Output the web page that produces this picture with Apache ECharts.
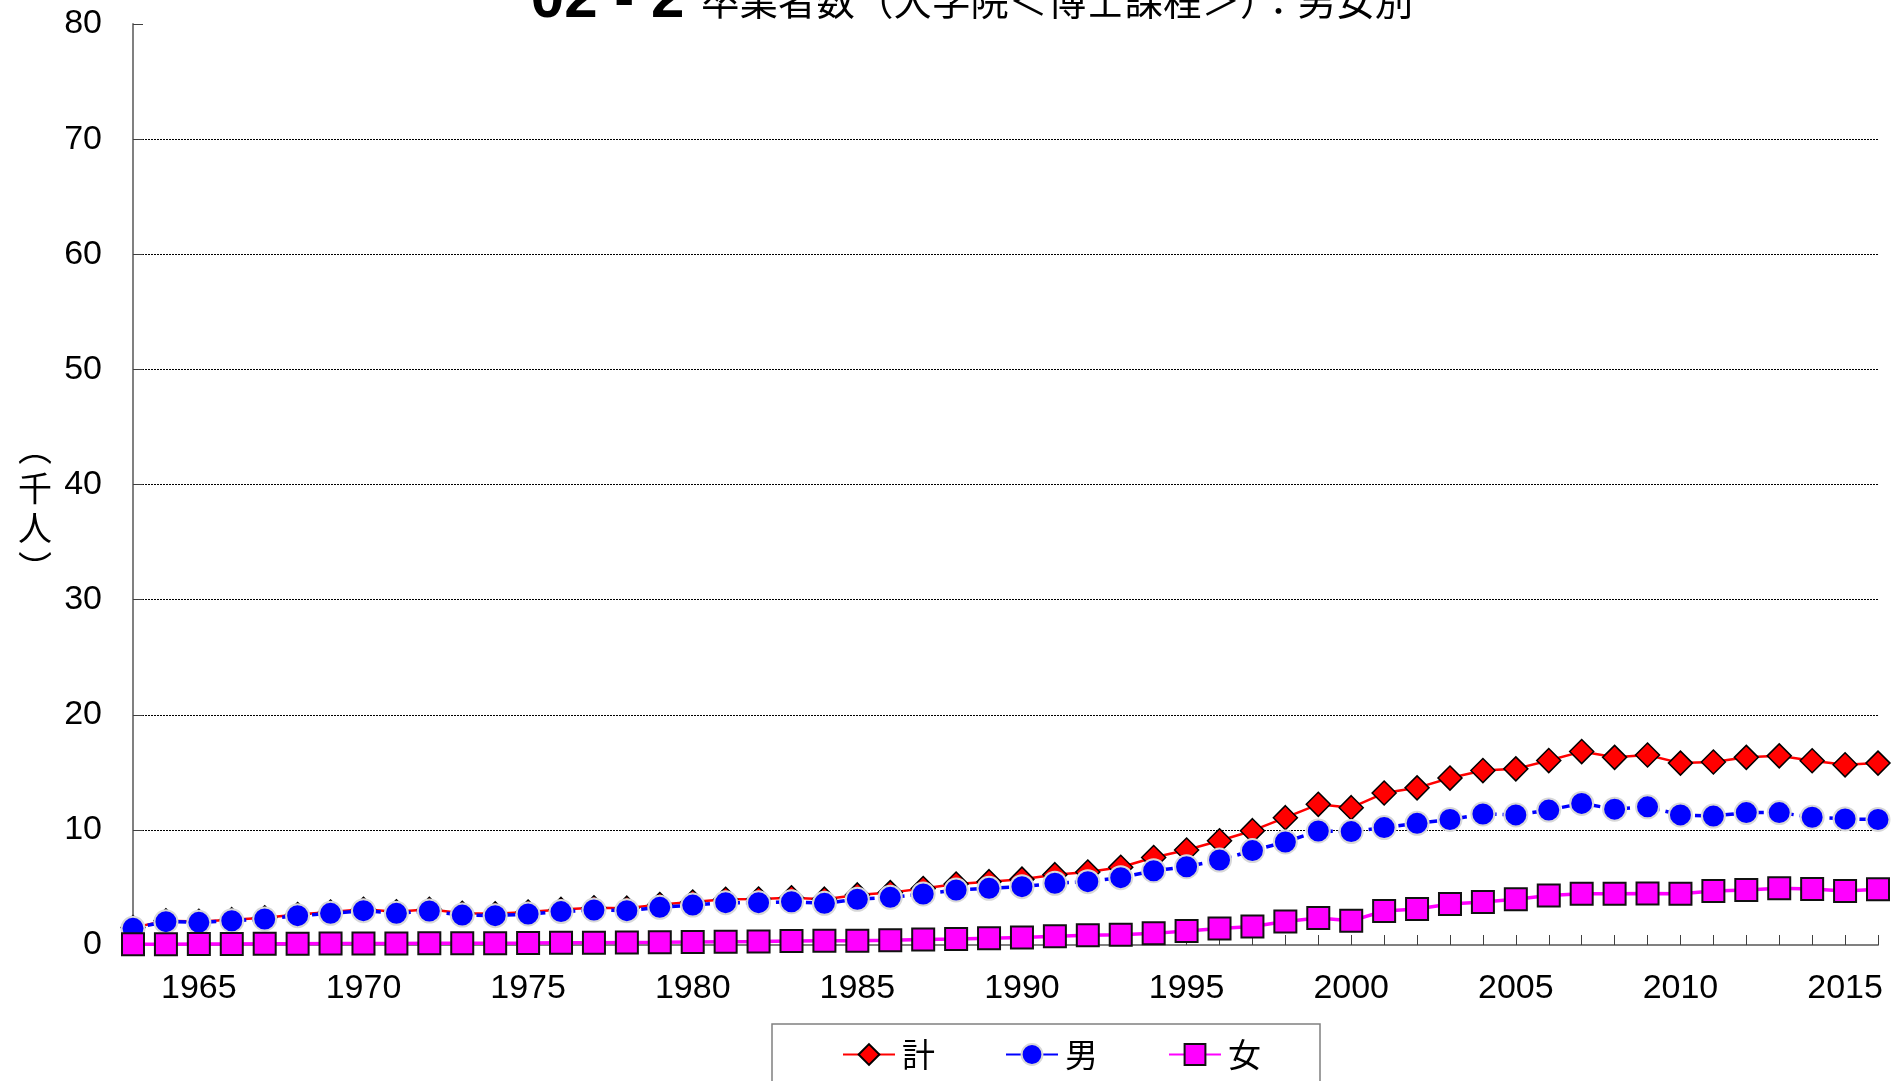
<!DOCTYPE html>
<html>
<head>
<meta charset="utf-8">
<script src="https://cdn.jsdelivr.net/npm/echarts@6/dist/echarts.min.js"></script>
<style>
html,body{margin:0;padding:0;background:#fff;}
#main{width:1898px;height:1081px;}
</style>
</head>
<body>
<div id="main"></div>
<script>
const years = ['1963','1964','1965','1966','1967','1968','1969','1970','1971','1972','1973','1974','1975','1976','1977','1978','1979','1980','1981','1982','1983','1984','1985','1986','1987','1988','1989','1990','1991','1992','1993','1994','1995','1996','1997','1998','1999','2000','2001','2002','2003','2004','2005','2006','2007','2008','2009','2010','2011','2012','2013','2014','2015','2016'];
const total = [1.51,2.1,2.05,2.2,2.36,2.65,2.87,3.11,2.89,3.1,2.75,2.71,2.86,3.09,3.24,3.2,3.51,3.74,3.97,3.99,4.1,3.98,4.35,4.55,4.9,5.3,5.5,5.72,6.11,6.34,6.75,7.6,8.25,9.06,9.93,11.06,12.22,11.93,13.2,13.65,14.5,15.15,15.3,16.02,16.8,16.3,16.5,15.8,15.9,16.3,16.43,16.0,15.65,15.8];
const male = [1.45,2.03,1.97,2.11,2.26,2.55,2.75,2.98,2.75,2.95,2.6,2.55,2.69,2.9,3.04,2.98,3.27,3.47,3.68,3.68,3.76,3.62,3.97,4.14,4.43,4.78,4.92,5.07,5.36,5.5,5.85,6.45,6.8,7.38,8.2,8.95,9.9,9.85,10.2,10.57,10.9,11.38,11.3,11.72,12.3,11.8,12.0,11.3,11.2,11.5,11.5,11.1,10.95,10.9];
const female = [0.06,0.07,0.08,0.09,0.1,0.1,0.12,0.13,0.14,0.15,0.15,0.16,0.17,0.19,0.2,0.22,0.24,0.27,0.29,0.31,0.34,0.36,0.38,0.41,0.47,0.52,0.58,0.65,0.75,0.84,0.88,1.01,1.22,1.44,1.6,2.05,2.34,2.1,2.95,3.12,3.56,3.74,3.97,4.3,4.46,4.46,4.47,4.46,4.69,4.78,4.92,4.87,4.69,4.84];
const seriesNames = ['計','男','女'];
const yTicks = {min:0, max:80, interval:10};
const titleMain = '02 - 2';
const titleSub = '卒業者数（大学院＜博士課程＞）：男女別';
const yName = '︵\n千\n人\n︶';

const SANS = "'Liberation Sans',Arial,sans-serif";
const CJK = "'Noto Sans CJK JP','Noto Sans CJK SC',sans-serif";

const chart = echarts.init(document.getElementById('main'), null, {renderer:'canvas'});
chart.setOption({
  animation:false,
  backgroundColor:'#ffffff',
  grid:{left:133, right:20, top:24, bottom:136},
  graphic:[
    {type:'text', x:972, y:30, z:100,
     style:{text:'{a|'+titleMain+' }{b|'+titleSub+'}', align:'center', verticalAlign:'bottom',
       rich:{a:{fontSize:60, fontWeight:'bold', fontFamily:SANS, fill:'#000'},
             b:{fontSize:38.5, fontFamily:CJK, fill:'#000'}}}},
    {type:'text', x:35, y:508,
     style:{text:yName, align:'center', verticalAlign:'middle', fontSize:34, lineHeight:40, fontFamily:CJK, fill:'#000'}}
  ],
  legend:{
    left:772, top:1024,
    padding:[14,59,30,70],
    borderColor:'#808080', borderWidth:1.5,
    itemWidth:52, itemHeight:26, itemGap:70,
    lineStyle:{type:'solid'},
    textStyle:{fontSize:33, fontFamily:CJK, color:'#000', padding:[0,0,0,2]},
    data:seriesNames
  },
  xAxis:{
    type:'category', boundaryGap:false, data:years,
    axisLine:{lineStyle:{color:'#808080', width:2}},
    axisTick:{show:true, inside:true, length:10, interval:0, lineStyle:{color:'#404040', width:1}},
    axisLabel:{interval:function(i,v){return (+v)%5===0;}, fontSize:34, fontFamily:SANS, color:'#000', margin:27},
    splitLine:{show:false}
  },
  yAxis:{
    type:'value', min:yTicks.min, max:yTicks.max, interval:yTicks.interval,
    axisLine:{show:true, lineStyle:{color:'#808080', width:2}},
    axisTick:{show:true, inside:true, length:10, lineStyle:{color:'#404040', width:1}},
    axisLabel:{fontSize:34, fontFamily:SANS, color:'#000', margin:31},
    splitLine:{show:true, showMaxLine:false, lineStyle:{color:'#000', width:1, type:[2,1]}}
  },
  series:[
    {name:seriesNames[0], type:'line', data:total, symbol:'diamond', symbolSize:24, showAllSymbol:true,
     lineStyle:{color:'#ff0000', width:2.5},
     itemStyle:{color:'#ff0000', borderColor:'#000', borderWidth:1.5}, z:2},
    {name:seriesNames[1], type:'line', data:male, symbol:'circle', symbolSize:23, showAllSymbol:true,
     lineStyle:{color:'#0000ff', width:3.5, type:[9,6]},
     itemStyle:{color:'#0000ff', borderColor:'#d8d8d8', borderWidth:2}, z:3},
    {name:seriesNames[2], type:'line', data:female, symbol:'rect', symbolSize:22, showAllSymbol:true,
     lineStyle:{color:'#ff00ff', width:3.5},
     itemStyle:{color:'#ff00ff', borderColor:'#111', borderWidth:2}, z:4}
  ]
});
</script>
</body>
</html>
